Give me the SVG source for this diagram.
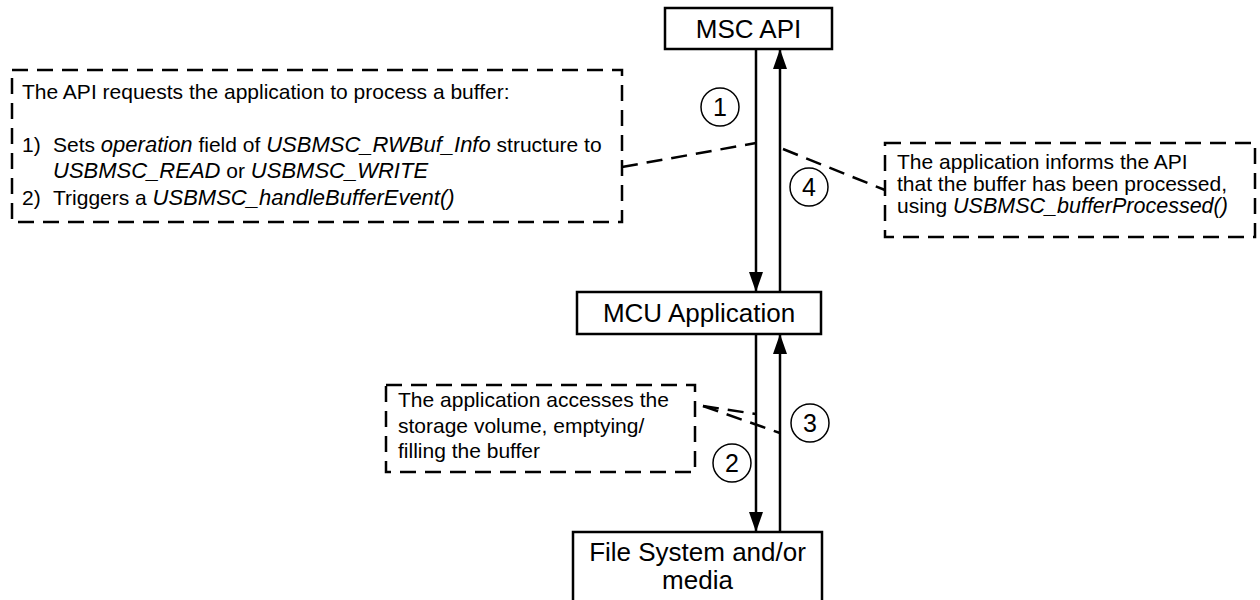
<svg xmlns="http://www.w3.org/2000/svg" width="1260" height="600" viewBox="0 0 1260 600">
<style>
.node{fill:#fff;stroke:#000;stroke-width:2.5}
.nt{font-family:"Liberation Sans",Arial,sans-serif;font-size:26px;fill:#000;text-anchor:middle}
.note{fill:none;stroke:#000;stroke-width:2.5;stroke-dasharray:16 9}
.at{font-family:"Liberation Sans",Arial,sans-serif;font-size:21px;fill:#000}
.i{font-style:italic;font-size:22px}
.i2{font-style:italic;font-size:21.5px}
.ld{fill:none;stroke:#000;stroke-width:2.5;stroke-dasharray:16 9}
.ar{fill:none;stroke:#000;stroke-width:2.5}
.circ{fill:#fff;stroke:#000;stroke-width:1.5}
.num{font-family:"Liberation Sans",Arial,sans-serif;font-size:25px;fill:#000;text-anchor:middle}
</style>
<defs>
<marker id="ah" markerWidth="20" markerHeight="14" refX="20" refY="7" orient="auto" markerUnits="userSpaceOnUse">
<path d="M0,0 L20,7 L0,14 z" fill="#000"/>
</marker>
</defs>
<rect width="1260" height="600" fill="#fff"/>
<g id="connectors">
<line class="ar" x1="756" y1="49" x2="756" y2="292" marker-end="url(#ah)"/>
<line class="ar" x1="780" y1="292" x2="780" y2="49" marker-end="url(#ah)"/>
<line class="ar" x1="756" y1="334" x2="756" y2="532" marker-end="url(#ah)"/>
<line class="ar" x1="780" y1="532" x2="780" y2="334" marker-end="url(#ah)"/>
<line class="ld" x1="622" y1="167" x2="756" y2="143"/>
<line class="ld" x1="783" y1="149" x2="885" y2="190"/>
<line class="ld" x1="703" y1="406" x2="756" y2="414"/>
<line class="ld" x1="703" y1="406" x2="780" y2="433"/>
</g>
<g id="msc-api">
<rect class="node" x="665" y="8" width="167" height="41"/>
<text class="nt" x="748.5" y="38">MSC API</text>
</g>
<g id="mcu-app">
<rect class="node" x="577" y="292" width="244" height="42"/>
<text class="nt" x="699" y="322">MCU Application</text>
</g>
<g id="fs-media">
<rect class="node" x="573" y="532" width="249" height="80"/>
<text class="nt" x="697.5" y="561">File System and/or</text>
<text class="nt" x="697.5" y="589">media</text>
</g>
<g id="note-request">
<rect class="note" x="12" y="70" width="610" height="152"/>
<text class="at" x="22" y="99">The API requests the application to process a buffer:</text>
<text class="at" x="22" y="152">1)</text>
<text class="at" x="53" y="152">Sets <tspan class="i">operation</tspan> field of <tspan class="i">USBMSC_RWBuf_Info</tspan> structure to</text>
<text class="at" x="53" y="178"><tspan class="i">USBMSC_READ</tspan> or <tspan class="i">USBMSC_WRITE</tspan></text>
<text class="at" x="22" y="205">2)</text>
<text class="at" x="53" y="205">Triggers a <tspan class="i">USBMSC_handleBufferEvent()</tspan></text>
</g>
<g id="note-processed">
<rect class="note" x="885" y="143" width="370" height="94"/>
<text class="at" x="897" y="169">The application informs the API</text>
<text class="at" x="897" y="191">that the buffer has been processed,</text>
<text class="at" x="897" y="213">using <tspan class="i2">USBMSC_bufferProcessed()</tspan></text>
</g>
<g id="note-access">
<rect class="note" x="386" y="385" width="309" height="87"/>
<text class="at" x="398" y="407">The application accesses the</text>
<text class="at" x="398" y="432.5">storage volume, emptying/</text>
<text class="at" x="398" y="458">filling the buffer</text>
</g>
<g id="step1">
<circle class="circ" cx="720" cy="107" r="19"/>
<text class="num" x="720" y="116">1</text>
</g>
<g id="step2">
<circle class="circ" cx="732" cy="463" r="19"/>
<text class="num" x="732" y="472">2</text>
</g>
<g id="step3">
<circle class="circ" cx="810" cy="423" r="19"/>
<text class="num" x="810" y="432">3</text>
</g>
<g id="step4">
<circle class="circ" cx="809" cy="187" r="19"/>
<text class="num" x="809" y="196">4</text>
</g>
</svg>
